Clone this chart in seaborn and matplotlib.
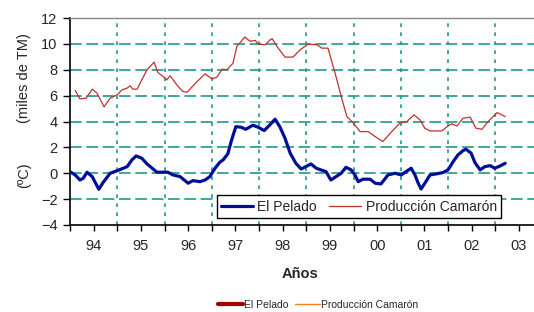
import numpy as np
import pandas as pd
import seaborn as sns
import matplotlib
matplotlib.use("Agg")
import matplotlib.pyplot as plt
from matplotlib.lines import Line2D

# El Pelado SST anomaly (ºC)
pelado_years = [1994.0, 1994.11, 1994.21, 1994.28, 1994.36, 1994.47, 1994.61, 1994.70, 1994.85,
                1995.0, 1995.21, 1995.31, 1995.40, 1995.52, 1995.63, 1995.84, 1996.07, 1996.18,
                1996.33, 1996.50, 1996.60, 1996.75, 1996.86, 1996.96, 1997.07, 1997.17, 1997.24,
                1997.34, 1997.41, 1997.51, 1997.62, 1997.72, 1997.87, 1997.98, 1998.11, 1998.23,
                1998.34, 1998.44, 1998.55, 1998.66, 1998.78, 1998.89, 1998.99, 1999.10, 1999.21,
                1999.31, 1999.42, 1999.52, 1999.63, 1999.74, 1999.84, 1999.95, 2000.03, 2000.10,
                2000.20, 2000.35, 2000.46, 2000.58, 2000.73, 2000.88, 2001.01, 2001.11, 2001.22,
                2001.30, 2001.37, 2001.43, 2001.51, 2001.62, 2001.75, 2001.89, 2002.0, 2002.11,
                2002.21, 2002.32, 2002.38, 2002.49, 2002.57, 2002.68, 2002.78, 2002.89, 2002.99,
                2003.10, 2003.21]
pelado = [0.12, -0.13, -0.52, -0.39, 0.08, -0.26, -1.24, -0.72, 0.0,
          0.2, 0.51, 1.03, 1.34, 1.16, 0.72, 0.08, 0.08, -0.13,
          -0.26, -0.77, -0.57, -0.65, -0.52, -0.26, 0.39, 0.85, 1.03,
          1.5, 2.45, 3.6, 3.56, 3.4, 3.71, 3.56, 3.3, 3.74,
          4.18, 3.6, 2.71, 1.55, 0.77, 0.33, 0.51, 0.72, 0.39,
          0.26, 0.12, -0.52, -0.26, 0.0, 0.46, 0.26, -0.13, -0.65,
          -0.46, -0.46, -0.77, -0.83, -0.13, 0.0, -0.13, 0.12, 0.39,
          -0.13, -0.77, -1.22, -0.77, -0.13, -0.05, 0.05, 0.26, 0.9,
          1.42, 1.75, 1.86, 1.55, 0.82, 0.26, 0.51, 0.59, 0.39,
          0.56, 0.77]

# Producción camarón (miles de TM)
camaron_years = [1994.11, 1994.21, 1994.34, 1994.47, 1994.57, 1994.72, 1994.85, 1995.0, 1995.1,
                 1995.21, 1995.27, 1995.33, 1995.42, 1995.52, 1995.63, 1995.78, 1995.86, 1995.97,
                 1996.05, 1996.12, 1996.26, 1996.39, 1996.48, 1996.69, 1996.86, 1997.0, 1997.11,
                 1997.22, 1997.32, 1997.45, 1997.53, 1997.70, 1997.81, 1997.92, 1997.98, 1998.13,
                 1998.23, 1998.28, 1998.38, 1998.55, 1998.72, 1998.87, 1999.04, 1999.23, 1999.33,
                 1999.46, 1999.61, 1999.76, 1999.86, 1999.99, 2000.14, 2000.31, 2000.46, 2000.62,
                 2000.81, 2000.98, 2001.13, 2001.28, 2001.41, 2001.51, 2001.62, 2001.87, 2001.98,
                 2002.08, 2002.19, 2002.32, 2002.47, 2002.59, 2002.72, 2002.85, 2003.04, 2003.21]
camaron = [6.4, 5.75, 5.8, 6.5, 6.2, 5.13, 5.8, 6.06, 6.45,
           6.58, 6.76, 6.5, 6.5, 7.22, 8.0, 8.59, 7.79, 7.48,
           7.22, 7.53, 6.83, 6.32, 6.27, 7.09, 7.68, 7.3, 7.43,
           8.05, 8.0, 8.51, 9.8, 10.53, 10.2, 10.27, 9.98, 9.93,
           10.3, 10.4, 9.8, 8.98, 8.98, 9.54, 9.98, 9.93, 9.67,
           9.67, 7.74, 5.67, 4.38, 3.92, 3.22, 3.22, 2.83, 2.45,
           3.22, 3.87, 4.0, 4.51, 4.12, 3.48, 3.27, 3.27, 3.6,
           3.82, 3.66, 4.26, 4.33, 3.48, 3.4, 4.0, 4.69, 4.38]

year_labels = ["94", "95", "96", "97", "98", "99", "00", "01", "02", "03"]

sns.set_style("white")
plt.rcParams['font.family'] = ['Liberation Sans', 'DejaVu Sans']

fig = plt.figure(figsize=(5.34, 3.12), dpi=100)
ax = fig.add_axes([70 / 534, 1 - 225 / 312, 464 / 534, 207 / 312])

teal = "#1f9a8a"
sns.lineplot(x=camaron_years, y=camaron, ax=ax, color="#c0302f", lw=0.9,
             label="Producción Camarón", zorder=3)
sns.lineplot(x=pelado_years, y=pelado, ax=ax, color="#000f96", lw=2.3,
             label="El Pelado", zorder=4)

ax.set_xlim(1994, 2003.82)
ax.set_ylim(-4, 12)
ax.set_yticks(np.arange(-4, 13, 2))
ax.set_xticks(np.arange(1994.5, 2004, 1))
ax.set_xticklabels(year_labels)
ax.set_xticks(np.arange(1994, 2004, 1), minor=True)
ax.tick_params(axis="x", which="both", direction="out", length=4, width=1,
               color="black", bottom=True, labelsize=10.5, pad=6)
ax.tick_params(axis="y", direction="out", length=5, width=1, color="black",
               left=True, labelsize=10.5, pad=4)

ax.grid(False)
for y in [-2, 0, 2, 4, 6, 8, 10]:
    ax.axhline(y, color=teal, lw=1.2, ls=(0, (7, 2.8)), zorder=1)
for x in range(1995, 2004):
    ax.axvline(x, color=teal, lw=1.2, ls=(0, (2.2, 3.2)), zorder=1)

for s in ["left", "bottom"]:
    ax.spines[s].set_color("black")
    ax.spines[s].set_linewidth(1.2)
ax.spines["top"].set_color("#888888")
ax.spines["top"].set_linewidth(1)
ax.spines["right"].set_visible(False)

# inside legend: blue first, then red
h, l = ax.get_legend_handles_labels()
order = [l.index("El Pelado"), l.index("Producción Camarón")]
leg = ax.legend([h[i] for i in order], [l[i] for i in order], ncol=2,
                loc="lower left", bbox_to_anchor=(0.317, 0.035), fontsize=10,
                frameon=True, fancybox=False, edgecolor="black", framealpha=1,
                borderpad=0.3, handlelength=2.3, handletextpad=0.3,
                columnspacing=0.9, borderaxespad=0)
leg.get_frame().set_linewidth(1.0)

fig.text(24 / 534, 1 - 78 / 312, "(miles de TM)", rotation=90, ha="center",
         va="center", fontsize=10.5)
fig.text(24 / 534, 1 - 175 / 312, "(ºC)", rotation=90, ha="center",
         va="center", fontsize=10.5)
fig.text(300 / 534, 1 - 274 / 312, "Años", ha="center", va="center",
         fontsize=10.5, fontweight="bold")

# second legend at the bottom
extra = [Line2D([], [], color="#a00000", lw=3), Line2D([], [], color="#ff8020", lw=1)]
fig.legend(extra, ["El Pelado", "Producción Camarón"], ncol=2, loc="center",
           bbox_to_anchor=(318 / 534, 1 - 305 / 312), fontsize=7.5, frameon=False,
           handlelength=2.4, handletextpad=0.1, columnspacing=0.6,
           borderpad=0.1)

fig.savefig("out.png", dpi=100)
